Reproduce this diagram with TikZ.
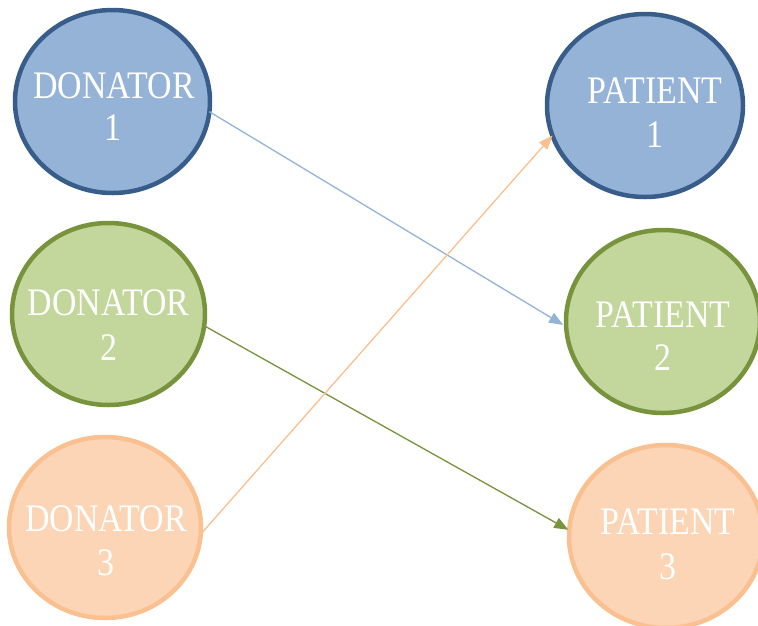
\documentclass[tikz,border=0pt]{standalone}
\usepackage{fontspec}
\usetikzlibrary{arrows.meta,shapes.geometric}
\newfontfamily\lblfont[FakeStretch=0.87]{Liberation Serif}

\definecolor{bluefill}{HTML}{95B3D7}
\definecolor{blueedge}{HTML}{385D8A}
\definecolor{greenfill}{HTML}{C3D69B}
\definecolor{greenedge}{HTML}{77933C}
\definecolor{orangefill}{HTML}{FBD5B5}
\definecolor{orangeedge}{HTML}{FAC08F}

\tikzset{
  bubble/.style={ellipse, line width=4.5pt, inner sep=0pt, outer sep=0pt},
  bluebubble/.style={bubble, draw=blueedge, fill=bluefill},
  greenbubble/.style={bubble, draw=greenedge, fill=greenfill},
  orangebubble/.style={bubble, draw=orangeedge, fill=orangefill},
  caption/.style={anchor=base, inner sep=0pt, text=white,
    font=\lblfont\fontsize{39}{45}\selectfont},
  link/.style={line width=1.3pt, -{Triangle[length=14pt,width=11pt]}},
}

\begin{document}
\begin{tikzpicture}[x=1pt,y=-1pt]
  \useasboundingbox (0,0) rectangle (758,625);
  \clip (0,0) rectangle (758,625);

  % donors
  \node[bluebubble,   minimum width=195pt, minimum height=183pt] (d1) at (112.5,101.5) {};
  \node[greenbubble,  minimum width=193pt, minimum height=182pt] (d2) at (108.5,314) {};
  \node[orangebubble, minimum width=192pt, minimum height=181pt] (d3) at (105,527.5) {};

  % patients
  \node[bluebubble,   minimum width=196pt, minimum height=183pt] (p1) at (645,105.5) {};
  \node[greenbubble,  minimum width=194pt, minimum height=183pt] (p2) at (663,321.5) {};
  \node[orangebubble, minimum width=194pt, minimum height=183pt] (p3) at (666,536.5) {};

  % captions
  \node[caption] (d1a) at (114,98)  {DONATOR};
  \node[caption] (d1b) at (113,140) {1};
  \node[caption] (d2a) at (108.5,315) {DONATOR};
  \node[caption] (d2b) at (108.5,360) {2};
  \node[caption] (d3a) at (106,531) {DONATOR};
  \node[caption] (d3b) at (106,575) {3};
  \node[caption] (p1a) at (655,103) {PATIENT};
  \node[caption] (p1b) at (655,147) {1};
  \node[caption] (p2a) at (663,327) {PATIENT};
  \node[caption] (p2b) at (663,370) {2};
  \node[caption] (p3a) at (668,534) {PATIENT};
  \node[caption] (p3b) at (668,579) {3};

  % matchings
  \draw[link, draw=bluefill, fill=bluefill]       (d1.-6)   -- ([xshift=-3pt]p2.182);
  \draw[link, draw=greenedge, fill=greenedge]     (d2.-7)   -- ([xshift=-1pt]p3.176.5);
  \draw[link, draw=orangeedge, fill=orangeedge]   (d3.-4.4) -- (p1.198);
\end{tikzpicture}
\end{document}
